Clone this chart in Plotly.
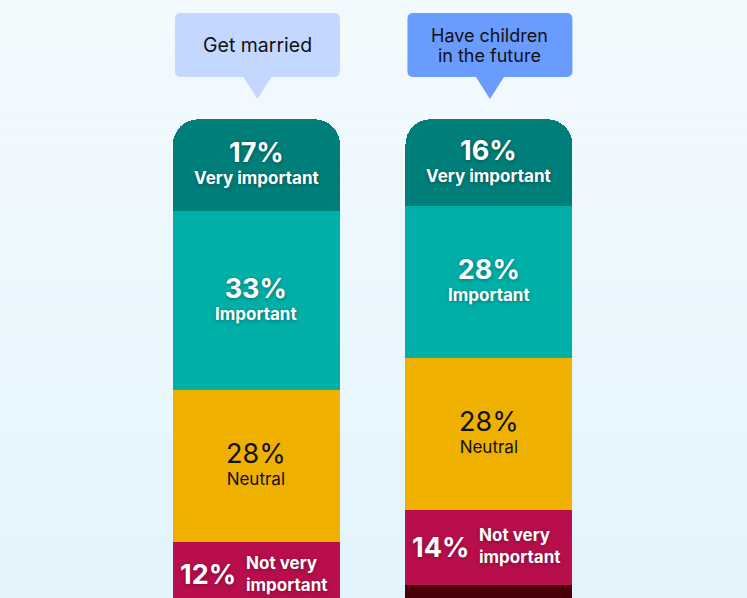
import plotly.graph_objects as go

# survey answers, one bar per question
questions = ["Get married", "Have children<br>in the future"]
question_sizes = [19.5, 18]
levels = ["Not at all important", "Not very important", "Neutral", "Important", "Very important"]
short_labels = ["Not at all<br>important", "Not very<br>important", "Neutral", "Important", "Very important"]

not_at_all = [10, 14]
not_very = [12, 14]
neutral = [28, 28]
important = [33, 28]
very_important = [17, 16]

level_values = [not_at_all, not_very, neutral, important, very_important]
level_colors = ["#4a0008", "#b80f4c", "#f0b000", "#00b0a8", "#007f7a"]
bubble_colors = ["#c4d8ff", "#6a9bff"]

W, H = 747, 598
X_RANGE = [-1.103, 2.110]
Y_RANGE = [11.68, 122.01]

SHADOW = "0px 1px 4px rgba(0,0,0,0.35)"
FONT = "Inter"

fig = go.Figure()

for name, vals, color in zip(levels, level_values, level_colors):
    fig.add_trace(go.Bar(
        x=[0, 1],
        y=vals,
        name=name,
        width=0.718,
        marker=dict(color=color, line=dict(width=0)),
        hoverinfo="skip",
    ))

# segment labels placed at the middle of each stacked piece
for i in range(len(questions)):
    base = 0
    for k, vals in enumerate(level_values):
        v = vals[i]
        mid = base + v / 2
        base += v
        if k == 0:
            continue
        dark = levels[k] == "Neutral"
        col = "#111111" if dark else "white"
        shadow = "none" if dark else SHADOW
        weight = 400 if dark else 700
        if levels[k] == "Not very important":
            fig.add_annotation(x=i, y=mid, text=f"{v}%", showarrow=False,
                               xshift=-48,
                               font=dict(family=FONT, size=27, color=col, weight=weight, shadow=shadow))
            fig.add_annotation(x=i, y=mid, text=short_labels[k], showarrow=False,
                               xanchor="left", align="left", xshift=-12, yshift=1,
                               font=dict(family=FONT, size=17, color=col, weight=weight, shadow=shadow))
        else:
            txt = f"<span style='font-size:27px'>{v}%</span><br>{short_labels[k]}"
            fig.add_annotation(x=i, y=mid, text=txt, showarrow=False, yshift=3,
                               font=dict(family=FONT, size=17, color=col, weight=weight, shadow=shadow))


def px_to_paper(px, py):
    return px / W, 1 - py / H


def bubble_path(cx, top=13, bottom=77, half_w=82.5, r=6, tail=14, tip=99):
    l, rgt = cx - half_w, cx + half_w

    def p(x, y):
        a, b = px_to_paper(x, y)
        return f"{a:.5f},{b:.5f}"

    pts = [
        "M " + p(l + r, top),
        "L " + p(rgt - r, top),
        "Q " + p(rgt, top) + " " + p(rgt, top + r),
        "L " + p(rgt, bottom - r),
        "Q " + p(rgt, bottom) + " " + p(rgt - r, bottom),
        "L " + p(cx + tail, bottom),
        "L " + p(cx, tip),
        "L " + p(cx - tail, bottom),
        "L " + p(l + r, bottom),
        "Q " + p(l, bottom) + " " + p(l, bottom - r),
        "L " + p(l, top + r),
        "Q " + p(l, top) + " " + p(l + r, top),
    ]
    return " ".join(pts) + " Z"


# soft vertical background gradient
n_bands = 40
c_top = (243, 250, 254)
c_bot = (227, 244, 253)
for b in range(n_bands):
    t = b / (n_bands - 1)
    c = tuple(round(c_top[j] + (c_bot[j] - c_top[j]) * t) for j in range(3))
    fig.add_shape(type="rect", xref="paper", yref="paper",
                  x0=0, x1=1, y0=1 - (b + 1) / n_bands, y1=1 - b / n_bands,
                  fillcolor=f"rgb{c}", line=dict(width=0), layer="below")

for i, q in enumerate(questions):
    cx = (i - X_RANGE[0]) / (X_RANGE[1] - X_RANGE[0]) * W + 1
    fig.add_shape(type="path", xref="paper", yref="paper", path=bubble_path(cx),
                  fillcolor=bubble_colors[i], line=dict(width=0), layer="above")
    fs = question_sizes[i]
    fig.add_annotation(x=cx / W, y=1 - 45 / H, xref="paper", yref="paper",
                       xanchor="center", yanchor="middle",
                       text=f"<span style='font-size:{fs}px'>{q}</span>", showarrow=False,
                       font=dict(family=FONT, size=15.4, color="#111111"))

fig.update_layout(
    width=W,
    height=H,
    barmode="stack",
    barcornerradius=25,
    showlegend=False,
    margin=dict(l=0, r=0, t=0, b=0),
    paper_bgcolor="#eaf6fd",
    plot_bgcolor="rgba(0,0,0,0)",
    xaxis=dict(range=X_RANGE, visible=False, fixedrange=True),
    yaxis=dict(range=Y_RANGE, visible=False, fixedrange=True),
)

fig.write_html("out.html", config={"displayModeBar": False},
               post_script="document.body.style.margin='0px';")
